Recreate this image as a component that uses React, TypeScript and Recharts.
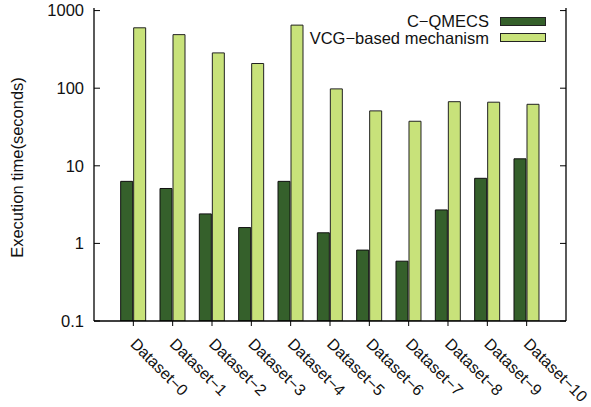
import React from 'react';
import { BarChart, Bar, XAxis, YAxis, Label } from 'recharts';

// execution time per dataset
const datasets = [
  'Dataset-0', 'Dataset-1', 'Dataset-2', 'Dataset-3', 'Dataset-4', 'Dataset-5',
  'Dataset-6', 'Dataset-7', 'Dataset-8', 'Dataset-9', 'Dataset-10'
];
const cqmecs = [6.3, 5.1, 2.4, 1.6, 6.3, 1.37, 0.82, 0.59, 2.7, 6.9, 12.3];
const vcg = [600, 490, 285, 208, 650, 98, 51, 37.5, 67, 66, 62];
const yTicks = [0.1, 1, 10, 100, 1000];
const seriesNames = ['C-QMECS', 'VCG-based mechanism'];

const data = datasets.map((name, i) => ({ name, cqmecs: cqmecs[i], vcg: vcg[i] }));

const FONT = '"Liberation Sans", Arial, Helvetica, sans-serif';
const FS = 16.5;
const DARK = '#35602b';
const LIGHT = '#c8e27a';

// gnuplot prints '-' as a minus sign
const dash = (s: string) => s.replace(/-/g, '\u2212');

const LeftTick = (props: any) => {
  const { x, y, payload } = props;
  return (
    <g>
      <line x1={x + 10} x2={x + 16} y1={y} y2={y} stroke="#000" strokeWidth={1} />
      <text x={x} y={y} dy="0.35em" textAnchor="end" fontSize={FS} fontFamily={FONT} fill="#111">
        {payload.value}
      </text>
    </g>
  );
};

const RightTick = (props: any) => {
  const { x, y } = props;
  return <line x1={x - 6} x2={x} y1={y} y2={y} stroke="#000" strokeWidth={1} />;
};

const BottomTick = (props: any) => {
  const { x, y, payload } = props;
  const tx = x;
  const ty = y + 13;
  return (
    <text
      x={tx}
      y={ty}
      dy="0.35em"
      textAnchor="start"
      fontSize={16}
      fontFamily={FONT}
      fill="#111"
      transform={`rotate(45, ${tx}, ${ty})`}
    >
      {dash(payload.value)}
    </text>
  );
};

// key box in the top right corner, like gnuplot's
const KeyBox = () => (
  <div
    style={{
      position: 'absolute', top: 12.75, left: 250, width: 296,
      fontFamily: FONT, fontSize: FS, color: '#111'
    }}
  >
    {seriesNames.map((n, i) => (
      <div
        key={n}
        style={{ display: 'flex', justifyContent: 'flex-end', alignItems: 'center', height: 16.5 }}
      >
        <span style={{ lineHeight: '16px' }}>{dash(n)}</span>
        <span
          style={{
            display: 'inline-block',
            width: 44,
            height: 7,
            marginLeft: 11,
            background: i === 0 ? DARK : LIGHT,
            border: '1px solid #222'
          }}
        />
      </div>
    ))}
  </div>
);

export default function App() {
  return (
    <div style={{ position: 'absolute', left: 0, top: 0, width: 591, height: 407, background: '#fff' }}>
      <BarChart
        width={591}
        height={407}
        data={data}
        margin={{ top: 8, right: 0, bottom: 0, left: 0 }}
        barSize={12}
        barGap={1}
      >
        <XAxis
          dataKey="name"
          height={86}
          padding={{ left: 19.67, right: 19.67 }}
          interval={0}
          tickSize={5}
          tickLine={{ stroke: '#000' }}
          axisLine={{ stroke: '#000', strokeWidth: 1.3 }}
          tick={<BottomTick />}
        />
        <XAxis xAxisId="top" orientation="top" height={0} tick={false} tickLine={false}
          axisLine={{ stroke: '#000', strokeWidth: 1.3 }} />
        <YAxis
          scale="log"
          type="number"
          domain={[0.1, 1080]}
          ticks={yTicks}
          allowDataOverflow
          width={94}
          tickSize={0}
          tickMargin={10}
          tickLine={false}
          axisLine={{ stroke: '#000', strokeWidth: 1.3 }}
          tick={<LeftTick />}
        >
          <Label
            content={(p: any) => {
              const vb = p.viewBox;
              const lx = vb.x + 17;
              const ly = vb.y + vb.height / 2 + 3;
              return (
                <text x={lx} y={ly} transform={`rotate(-90, ${lx}, ${ly})`} textAnchor="middle"
                  dominantBaseline="central" fontSize={FS} fontFamily={FONT} fill="#111">
                  Execution time(seconds)
                </text>
              );
            }}
          />
        </YAxis>
        <YAxis
          yAxisId="right"
          orientation="right"
          scale="log"
          type="number"
          domain={[0.1, 1080]}
          ticks={yTicks}
          allowDataOverflow
          width={25}
          tickSize={0}
          tickMargin={0}
          tickLine={false}
          axisLine={{ stroke: '#000', strokeWidth: 1.3 }}
          tick={<RightTick />}
        />
        <Bar dataKey="cqmecs" name={seriesNames[0]} fill={DARK} stroke="#111" strokeWidth={1}
          isAnimationActive={false} />
        <Bar dataKey="vcg" name={seriesNames[1]} fill={LIGHT} stroke="#222" strokeWidth={1}
          isAnimationActive={false} />
      </BarChart>
      <KeyBox />
    </div>
  );
}
